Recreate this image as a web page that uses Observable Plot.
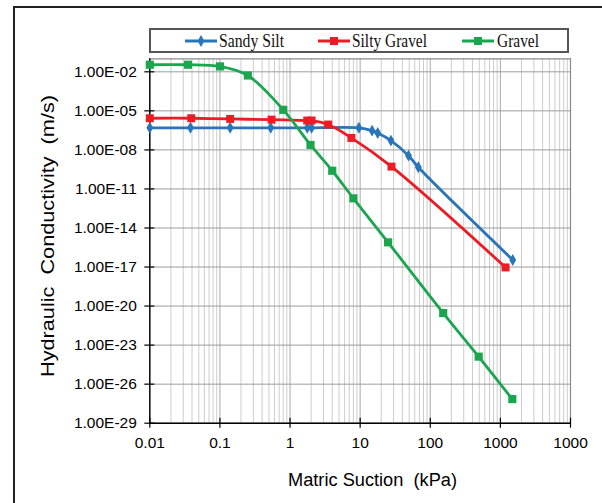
<!DOCTYPE html>
<html>
<head>
<meta charset="utf-8">
<script src="https://cdn.jsdelivr.net/npm/d3@7"></script>
<script src="https://cdn.jsdelivr.net/npm/@observablehq/plot@0.6"></script>
<style>
  html, body { margin: 0; padding: 0; background: #fff; }
  body { width: 602px; height: 503px; overflow: hidden; position: relative; font-family: "Liberation Sans", Arial, sans-serif; }
  #frame { position: absolute; left: 13px; top: 6px; width: 700px; height: 600px; border-left: 2px solid #222; border-top: 2px solid #222; box-sizing: border-box; }
  #chart { position: absolute; left: 0; top: 0; width: 602px; height: 503px; }
</style>
</head>
<body>
<div id="frame"></div>
<div id="chart"></div>
<script>
// ---------- data ----------
const seriesNames = ["Sandy Silt", "Silty Gravel", "Gravel"];
const seriesColors = ["#2a74b9", "#ec1c24", "#1aa54f"];

const sandySiltSuction = [0.01, 0.038, 0.14, 0.53, 1.76, 2.03, 9.6, 14.8, 17.8, 27.5, 49, 67.6, 1500];
const sandySiltK       = [5e-7, 5e-7, 5e-7, 5e-7, 5e-7, 5e-7, 5e-7, 3.0e-7, 2.0e-7, 5.2e-8, 3.6e-9, 4.6e-10, 3.5e-17];

const siltyGravelSuction = [0.01, 0.039, 0.14, 0.545, 1.76, 2.03, 3.5, 7.5, 28, 1186];
const siltyGravelK       = [2.7e-6, 2.7e-6, 2.4e-6, 2.1e-6, 1.8e-6, 1.8e-6, 8.9e-7, 8.3e-8, 5.2e-10, 9.3e-18];

const gravelSuction = [0.01, 0.035, 0.1, 0.25, 0.8, 1.96, 4, 8, 25, 153, 490, 1480];
const gravelK       = [3.5e-2, 3.5e-2, 2.6e-2, 5.2e-3, 1.2e-5, 2.4e-8, 2.5e-10, 1.9e-12, 7.9e-16, 2.9e-21, 1.3e-24, 7.1e-28];

const xTicks = [0.01, 0.1, 1, 10, 100, 1000, 10000];
const xTickLabels = ["0.01", "0.1", "1", "10", "100", "1000", "1000"];
const yTicks = [1e-29, 1e-26, 1e-23, 1e-20, 1e-17, 1e-14, 1e-11, 1e-8, 1e-5, 1e-2];
const yTickLabels = ["1.00E-29", "1.00E-26", "1.00E-23", "1.00E-20", "1.00E-17", "1.00E-14", "1.00E-11", "1.00E-08", "1.00E-05", "1.00E-02"];
const minorSteps = [2, 3, 4, 5, 6, 7, 8, 9];

// ---------- build tables ----------
function table(name, xs, ys) { return xs.map((x, i) => ({series: name, x, y: ys[i]})); }
const sandySilt = table(seriesNames[0], sandySiltSuction, sandySiltK);
const siltyGravel = table(seriesNames[1], siltyGravelSuction, siltyGravelK);
const gravel = table(seriesNames[2], gravelSuction, gravelK);
const xMinor = xTicks.slice(0, -1).flatMap(d => minorSteps.map(k => k * d));

const W = 602, H = 503;
const mL = 149.3, mR = W - 570, mT = 58.3, mB = H - 422.7;
const plotW = W - mL - mR, plotH = H - mT - mB;

const chart = Plot.plot({
  width: W, height: H,
  marginLeft: mL, marginRight: mR, marginTop: mT, marginBottom: mB,
  x: {type: "log", domain: [0.01, 10000]},
  y: {type: "log", domain: [1e-29, 1e-1]},
  style: {fontFamily: "'Liberation Sans', Arial, sans-serif", fontSize: "15.5px", color: "#000", background: "transparent"},
  marks: [
    Plot.ruleX(xMinor, {stroke: "#cdcdcd", strokeWidth: 1}),
    Plot.ruleX(xTicks, {stroke: "#a9a9a9", strokeWidth: 1}),
    Plot.ruleY(yTicks, {stroke: "#9c9c9c", strokeWidth: 1}),
    Plot.ruleY([1e-1], {stroke: "#8a8a8a", strokeWidth: 1.2}),
    Plot.ruleX([10000], {stroke: "#8a8a8a", strokeWidth: 1.2}),
    Plot.ruleX([0.01], {stroke: "#000", strokeWidth: 1.4}),
    Plot.ruleY([1e-29], {stroke: "#000", strokeWidth: 1.4}),
    Plot.tickY(yTicks, {y: d => d, insetLeft: -5, insetRight: plotW - 5, stroke: "#000", strokeWidth: 1.2}),
    Plot.tickX(xTicks, {x: d => d, insetTop: plotH - 5, insetBottom: -5, stroke: "#000", strokeWidth: 1.2}),
    Plot.axisY({ticks: yTicks, tickSize: 0, tickPadding: 13, label: null,
      tickFormat: d => yTickLabels[yTicks.indexOf(d)]}),
    Plot.axisX({ticks: xTicks, tickSize: 0, tickPadding: 14, label: null,
      tickFormat: d => xTickLabels[xTicks.indexOf(d)]}),
    Plot.line(sandySilt, {x: "x", y: "y", stroke: seriesColors[0], strokeWidth: 2.8, curve: "catmull-rom"}),
    Plot.dot(sandySilt, {x: "x", y: "y", symbol: "diamond", r: 3.6, fill: seriesColors[0]}),
    Plot.line(siltyGravel, {x: "x", y: "y", stroke: seriesColors[1], strokeWidth: 2.8, curve: "catmull-rom"}),
    Plot.dot(siltyGravel, {x: "x", y: "y", symbol: "square", r: 4.5, fill: seriesColors[1]}),
    Plot.line(gravel, {x: "x", y: "y", stroke: seriesColors[2], strokeWidth: 2.8, curve: "catmull-rom"}),
    Plot.dot(gravel, {x: "x", y: "y", symbol: "square", r: 4.6, fill: seriesColors[2]})
  ]
});
document.getElementById("chart").appendChild(chart);

// ---------- titles and legend ----------
const svg = d3.select(chart);
svg.append("text")
  .attr("transform", "translate(54,236) rotate(-90)")
  .attr("text-anchor", "middle")
  .attr("font-size", 19)
  .attr("textLength", 282).attr("lengthAdjust", "spacingAndGlyphs")
  .style("white-space", "pre")
  .attr("fill", "#000")
  .text("Hydraulic  Conductivity  (m/s)");
svg.append("text")
  .attr("x", 372.5).attr("y", 486)
  .attr("text-anchor", "middle")
  .attr("font-size", 18)
  .attr("textLength", 169).attr("lengthAdjust", "spacingAndGlyphs")
  .style("white-space", "pre")
  .attr("fill", "#000")
  .text("Matric Suction  (kPa)");

const lg = svg.append("g");
lg.append("rect").attr("x", 150).attr("y", 29).attr("width", 418).attr("height", 23)
  .attr("fill", "#fff").attr("stroke", "#555").attr("stroke-width", 2);
const legendItems = [
  {lineX: 185, textX: 219, textLen: 65, symbol: d3.symbolDiamond, size: 40},
  {lineX: 318, textX: 352, textLen: 75, symbol: d3.symbolSquare, size: 64},
  {lineX: 462, textX: 497, textLen: 42, symbol: d3.symbolSquare, size: 64}
];
legendItems.forEach((it, i) => {
  lg.append("line").attr("x1", it.lineX).attr("x2", it.lineX + 32).attr("y1", 41).attr("y2", 41)
    .attr("stroke", seriesColors[i]).attr("stroke-width", 3);
  lg.append("path").attr("d", d3.symbol(it.symbol, it.size)())
    .attr("transform", `translate(${it.lineX + 16},41)`).attr("fill", seriesColors[i]);
  lg.append("text").attr("x", it.textX).attr("y", 47)
    .attr("text-anchor", "start")
    .attr("font-family", "'Liberation Serif', 'Times New Roman', serif")
    .attr("font-size", 19)
    .attr("textLength", it.textLen).attr("lengthAdjust", "spacingAndGlyphs")
    .attr("fill", "#111")
    .text(seriesNames[i]);
});
</script>
</body>
</html>
